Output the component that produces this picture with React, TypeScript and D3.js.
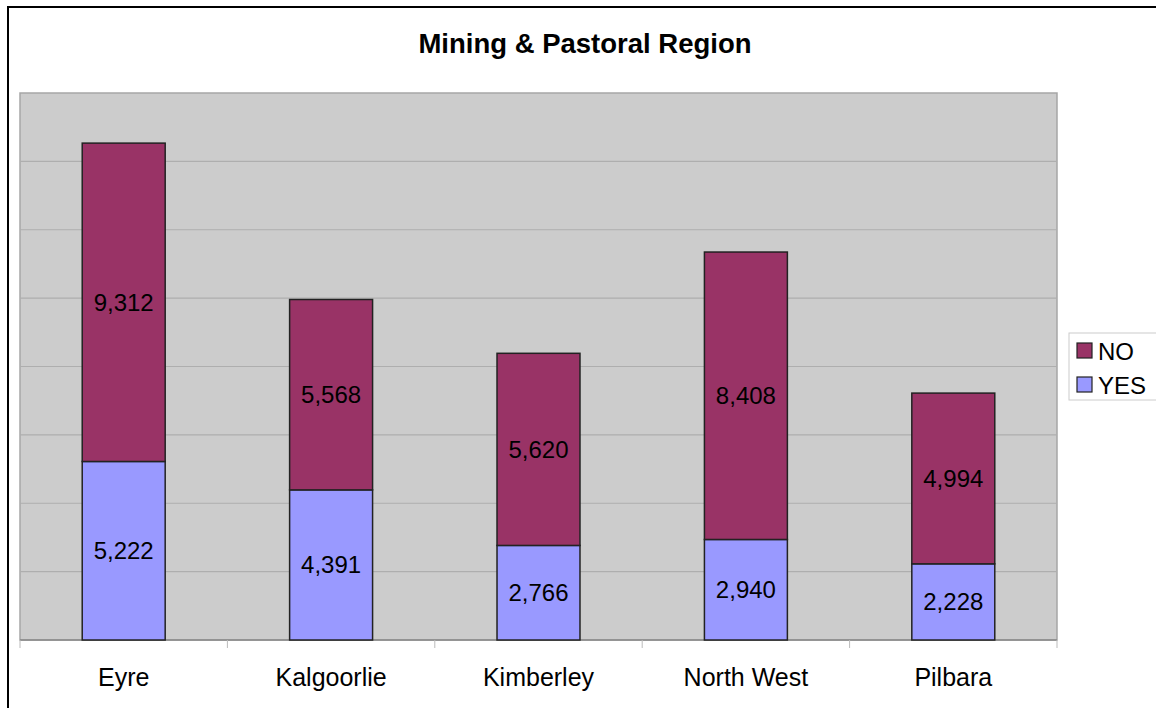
import React from "react";
import * as d3 from "d3";

const categories = ["Eyre", "Kalgoorlie", "Kimberley", "North West", "Pilbara"];
const yesValues = [5222, 4391, 2766, 2940, 2228];
const noValues = [9312, 5568, 5620, 8408, 4994];
const yTicks = [0, 2000, 4000, 6000, 8000, 10000, 12000, 14000, 16000];
const seriesNames = ["NO", "YES"];
const colors = { NO: "#993366", YES: "#9999FF" };

export default function App() {
  const W = 1156, H = 708;
  const left = 20, right = 1057, top = 93, bottom = 640;
  const x = d3.scaleBand().domain(categories).range([left, right]).paddingInner(0.6).paddingOuter(0.3);
  const xo = d3.scaleBand().domain(categories).range([left, right]);
  const y = d3.scaleLinear().domain([0, 16000]).range([bottom, top]);
  const fmt = d3.format(",");
  const font = "Arial, 'Liberation Sans', sans-serif";
  return (
    <svg width={W} height={H} style={{ position: "absolute", left: 0, top: 0 }} fontFamily={font}>
      <rect x={0} y={0} width={W} height={H} fill="#fff" />
      <rect x={8} y={7} width={W + 10} height={H + 10} fill="#fff" stroke="#000" strokeWidth={2} />
      <text x={585} y={53} textAnchor="middle" fontSize={27.5} fontWeight="bold" fill="#000">Mining &amp; Pastoral Region</text>
      <rect x={left} y={top} width={right - left} height={bottom - top} fill="#CCCCCC" stroke="#A6A6A6" strokeWidth={1.5} />
      {yTicks.slice(1, -1).map((t) => (
        <line key={t} x1={left} x2={right} y1={y(t)} y2={y(t)} stroke="#AEAEAE" strokeWidth={1.2} />
      ))}
      <line x1={left} x2={right} y1={bottom} y2={bottom} stroke="#888" strokeWidth={1.5} />
      {categories.map((c, i) => (
        <line key={"t" + i} x1={xo(c)!} x2={xo(c)!} y1={bottom} y2={bottom + 8} stroke="#bbb" strokeWidth={1} />
      ))}
      <line x1={right} x2={right} y1={bottom} y2={bottom + 8} stroke="#bbb" strokeWidth={1} />
      {categories.map((c, i) => {
        const bx = x(c)!, bw = x.bandwidth();
        const yy = yesValues[i], nn = noValues[i];
        return (
          <g key={c}>
            <rect x={bx} y={y(yy)} width={bw} height={y(0) - y(yy)} fill={colors.YES} stroke="#222" strokeWidth={1.5} />
            <rect x={bx} y={y(yy + nn)} width={bw} height={y(yy) - y(yy + nn)} fill={colors.NO} stroke="#222" strokeWidth={1.5} />
            <text x={bx + bw / 2} y={(y(0) + y(yy)) / 2 + 8.5} textAnchor="middle" fontSize={24} fill="#000">{fmt(yy)}</text>
            <text x={bx + bw / 2} y={(y(yy) + y(yy + nn)) / 2 + 8.5} textAnchor="middle" fontSize={24} fill="#000">{fmt(nn)}</text>
            <text x={xo(c)! + xo.bandwidth() / 2} y={686} textAnchor="middle" fontSize={25} fill="#000">{c}</text>
          </g>
        );
      })}
      <rect x={1069} y={333} width={88} height={67} fill="#fff" stroke="#ccc" strokeWidth={1} />
      {seriesNames.map((s, i) => (
        <g key={s}>
          <rect x={1077} y={343 + i * 34} width={15} height={15} fill={(colors as any)[s]} stroke="#222" strokeWidth={1.2} />
          <text x={1098} y={360 + i * 34} fontSize={24} fill="#000">{s}</text>
        </g>
      ))}
    </svg>
  );
}
